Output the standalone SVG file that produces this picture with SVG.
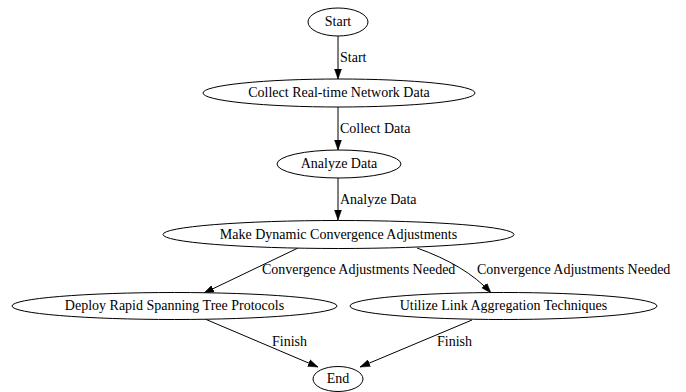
<svg xmlns="http://www.w3.org/2000/svg" width="686" height="392" viewBox="0 0 686 392">
  <style>
    .node ellipse { fill: #ffffff; stroke: #000000; stroke-width: 1; }
    text { font-family: "Liberation Serif", "Times New Roman", serif; font-size: 14px; fill: #000000; }
    .node text { text-anchor: middle; }
    .edges path { fill: none; stroke: #000000; stroke-width: 1; marker-end: url(#arrow); }
  </style>
  <defs>
    <marker id="arrow" markerUnits="userSpaceOnUse" markerWidth="10" markerHeight="8" refX="10" refY="4" orient="auto">
      <path d="M0,0.5 L10,4 L0,7.5 Z" fill="#000000" stroke="#000000" stroke-width="0.5"/>
    </marker>
  </defs>
  <rect width="686" height="392" fill="#ffffff"/>

  <!-- connectors -->
  <g id="edges" class="edges">
    <path d="M338,36 L338,79"/>
    <path d="M338,107 L338,150"/>
    <path d="M338,178 L338,220"/>
    <path d="M298,248 L204,293"/>
    <path d="M417,248 C448,259 474,274 491,293"/>
    <path d="M205,319 L318,367"/>
    <path d="M472,320 L360,367"/>
    <text x="340" y="62">Start</text>
    <text x="340" y="133">Collect Data</text>
    <text x="340" y="204">Analyze Data</text>
    <text x="262" y="274">Convergence Adjustments Needed</text>
    <text x="477" y="274">Convergence Adjustments Needed</text>
    <text x="272" y="346">Finish</text>
    <text x="437" y="346">Finish</text>
  </g>

  <g id="start" class="node">
    <ellipse cx="338" cy="22" rx="30" ry="14"/>
    <text x="338" y="26">Start</text>
  </g>
  <g id="collect" class="node">
    <ellipse cx="339" cy="93" rx="136" ry="14"/>
    <text x="339" y="97">Collect Real-time Network Data</text>
  </g>
  <g id="analyze" class="node">
    <ellipse cx="339" cy="164" rx="62" ry="14"/>
    <text x="339" y="168">Analyze Data</text>
  </g>
  <g id="adjust" class="node">
    <ellipse cx="338.5" cy="234.5" rx="175.5" ry="14"/>
    <text x="338.5" y="238.5">Make Dynamic Convergence Adjustments</text>
  </g>
  <g id="rstp" class="node">
    <ellipse cx="174.5" cy="306" rx="162.5" ry="13.5"/>
    <text x="174.5" y="310">Deploy Rapid Spanning Tree Protocols</text>
  </g>
  <g id="lag" class="node">
    <ellipse cx="503.5" cy="306" rx="153.5" ry="13.5"/>
    <text x="503.5" y="310">Utilize Link Aggregation Techniques</text>
  </g>
  <g id="end" class="node">
    <ellipse cx="338" cy="379" rx="25" ry="12.5"/>
    <text x="338" y="383">End</text>
  </g>
</svg>
